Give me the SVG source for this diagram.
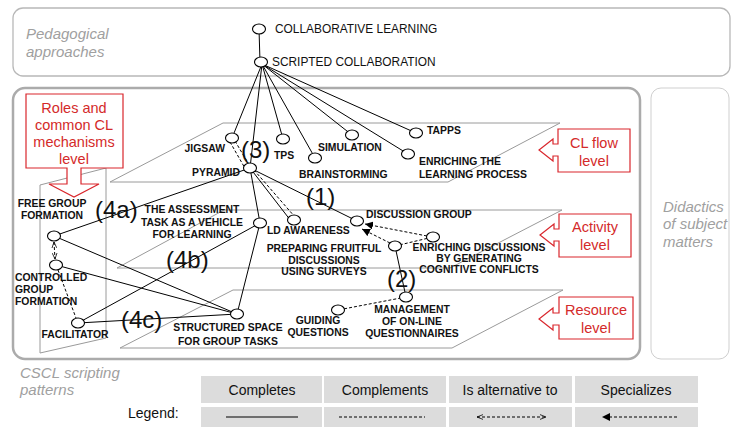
<svg xmlns="http://www.w3.org/2000/svg" width="741" height="435" viewBox="0 0 741 435">
<style>
.frame{fill:none;stroke:#b8b8b8;stroke-width:1.3}
.plane{fill:none;stroke:#9a9a9a;stroke-width:1}
.gray{font-family:"Liberation Sans",Arial,sans-serif;font-style:italic;font-size:15px;fill:#a0a0a0}
.call{fill:#fff;stroke:#d9262c;stroke-width:1.2}
.ct{font-family:"Liberation Sans",Arial,sans-serif;font-size:14.5px;fill:#d42a2a;text-anchor:middle}
.n{fill:#fff;stroke:#000;stroke-width:1.1}
.lb{font-family:"Liberation Sans",Arial,sans-serif;font-size:10.4px;font-weight:bold;fill:#111}
.top{font-family:"Liberation Sans",Arial,sans-serif;font-size:11.9px;fill:#111}
.big{font-family:"Liberation Sans",Arial,sans-serif;font-size:24px;fill:#111}
.s{fill:none;stroke:#000;stroke-width:1}
.d{fill:none;stroke:#000;stroke-width:1;stroke-dasharray:3,2}
.cell{fill:#dcdcdc}
.lt{font-family:"Liberation Sans",Arial,sans-serif;font-size:14px;fill:#111;text-anchor:middle}
</style>
<defs>
<marker id="fa" viewBox="0 0 10 10" refX="10" refY="5" markerWidth="8" markerHeight="8" orient="auto"><path d="M0,0 L10,5 L0,10 Z" fill="#000"/></marker>
<marker id="oa" viewBox="0 0 10 10" refX="10" refY="5" markerWidth="6" markerHeight="6" orient="auto-start-reverse"><path d="M0,1 L10,5 L0,9" fill="none" stroke="#000" stroke-width="1.3"/></marker>
</defs>

<!-- frames -->
<g id="frames">
<rect class="frame" x="13" y="8" width="717" height="68" rx="10"/>
<text class="gray" x="26" y="39">Pedagogical</text>
<text class="gray" x="26" y="57">approaches</text>
<rect x="13" y="88" width="627" height="271" rx="12" fill="none" stroke="#ababab" stroke-width="2.5"/>
<text class="gray" x="20" y="378">CSCL scripting</text>
<text class="gray" x="20" y="395">patterns</text>
<rect x="651" y="88" width="78" height="271" rx="10" fill="none" stroke="#cfcfcf" stroke-width="1"/>
<text class="gray" x="663" y="212">Didactics</text>
<text class="gray" x="663" y="229">of subject</text>
<text class="gray" x="663" y="247">matters</text>
</g>

<!-- planes -->
<g id="planes">
<path class="plane" d="M223,123 H560 L448,182 H110 Z"/>
<path class="plane" d="M224,210 H562 L450,268 H117 Z"/>
<path class="plane" d="M233,290 H563 L452,348 H120 Z"/>
<path class="plane" d="M40,185 L106,168 V338 L40,353 Z"/>
</g>

<!-- callouts -->
<g id="callout-roles">
<path class="call" d="M26,94 H123 V168 H81 V184 H99 L74,197 L49,184 H67 V168 H26 Z"/>
<text class="ct" x="74" y="113">Roles and</text>
<text class="ct" x="74" y="130">common CL</text>
<text class="ct" x="74" y="147">mechanisms</text>
<text class="ct" x="74" y="164">level</text>
</g>
<g id="callout-clflow">
<path class="call" d="M558,129 H630 V172 H558 V156 H553 V161 L539,150 L553,139 V144 H558 Z"/>
<text class="ct" x="594" y="148">CL flow</text>
<text class="ct" x="594" y="166">level</text>
</g>
<g id="callout-activity">
<path class="call" d="M559,214 H631 V257 H559 V241 H554 V246 L540,235 L554,224 V229 H559 Z"/>
<text class="ct" x="595" y="232">Activity</text>
<text class="ct" x="595" y="250">level</text>
</g>
<g id="callout-resource">
<path class="call" d="M559,297 H633 V339 H559 V325 H553 V330 L539,319 L553,308 V313 H559 Z"/>
<text class="ct" x="596" y="315">Resource</text>
<text class="ct" x="596" y="333">level</text>
</g>

<!-- connectors -->
<g id="connectors">
<line class="s" x1="259" y1="29" x2="260" y2="62"/>
<line class="s" x1="262" y1="64" x2="232" y2="138"/>
<line class="s" x1="262" y1="64" x2="250" y2="168"/>
<line class="s" x1="262" y1="64" x2="283" y2="139"/>
<line class="s" x1="262" y1="64" x2="315" y2="158"/>
<line class="s" x1="262" y1="64" x2="352" y2="135"/>
<line class="s" x1="262" y1="64" x2="408" y2="154"/>
<line class="s" x1="262" y1="64" x2="416" y2="133"/>
<line class="d" x1="230" y1="142" x2="246" y2="170"/>
<line class="d" x1="235" y1="141" x2="251" y2="168"/>
<line class="s" x1="250" y1="168" x2="357" y2="221"/>
<line class="s" x1="250" y1="168" x2="260" y2="223"/>
<line class="s" x1="250" y1="168" x2="291" y2="221"/>
<line class="d" x1="254" y1="170" x2="295" y2="217"/>
<line class="s" x1="250" y1="168" x2="54" y2="236"/>
<line class="s" x1="260" y1="223" x2="237" y2="314"/>
<line class="s" x1="260" y1="223" x2="78" y2="323"/>
<line class="s" x1="54" y1="236" x2="237" y2="314"/>
<line class="s" x1="56" y1="265" x2="237" y2="314"/>
<line class="s" x1="78" y1="323" x2="237" y2="314"/>
<line class="d" x1="54" y1="242" x2="55" y2="259" marker-start="url(#oa)" marker-end="url(#oa)"/>
<line class="d" x1="58" y1="270" x2="76" y2="318"/>
<line class="s" x1="395" y1="246" x2="406" y2="297"/>
<line class="d" x1="395" y1="246" x2="433" y2="237"/>
<line class="d" x1="427" y1="236" x2="365" y2="224" marker-end="url(#fa)"/>
<line class="d" x1="390" y1="243" x2="362" y2="229" marker-end="url(#fa)"/>
<line class="d" x1="406" y1="297" x2="338" y2="310"/>
</g>

<!-- nodes -->
<g id="n-collab"><ellipse class="n" cx="259" cy="29" rx="6.5" ry="5"/><text class="top" x="275" y="33">COLLABORATIVE LEARNING</text></g>
<g id="n-scripted"><ellipse class="n" cx="261" cy="62" rx="6.5" ry="5"/><text class="top" x="272" y="66">SCRIPTED COLLABORATION</text></g>
<g id="n-jigsaw"><ellipse class="n" cx="232" cy="138" rx="6.5" ry="5"/><text class="lb" x="225" y="152" text-anchor="end">JIGSAW</text></g>
<g id="n-pyramid"><ellipse class="n" cx="250" cy="168" rx="6.5" ry="5"/><text class="lb" x="240" y="176" text-anchor="end">PYRAMID</text></g>
<g id="n-tps"><ellipse class="n" cx="283" cy="139" rx="6.5" ry="5"/><text class="lb" x="274" y="159">TPS</text></g>
<g id="n-brainstorming"><ellipse class="n" cx="315" cy="158" rx="6.5" ry="5"/><text class="lb" x="299" y="178">BRAINSTORMING</text></g>
<g id="n-simulation"><ellipse class="n" cx="352" cy="135" rx="6.5" ry="5"/><text class="lb" x="318" y="151">SIMULATION</text></g>
<g id="n-tapps"><ellipse class="n" cx="416" cy="133" rx="6.5" ry="5"/><text class="lb" x="427" y="134">TAPPS</text></g>
<g id="n-enriching-lp"><ellipse class="n" cx="408" cy="154" rx="6.5" ry="5"/><text class="lb" x="419" y="165">ENRICHING THE</text><text class="lb" x="419" y="178">LEARNING PROCESS</text></g>
<g id="n-discussion"><ellipse class="n" cx="357" cy="221" rx="6.5" ry="5"/><text class="lb" x="366" y="218">DISCUSSION GROUP</text></g>
<g id="n-ld"><ellipse class="n" cx="294" cy="220" rx="6.5" ry="5"/><text class="lb" x="267" y="234">LD AWARENESS</text></g>
<g id="n-assessment"><ellipse class="n" cx="260" cy="223" rx="6.5" ry="5"/><text class="lb" x="192" y="213" text-anchor="middle">THE ASSESSMENT</text><text class="lb" x="192" y="226" text-anchor="middle">TASK AS A VEHICLE</text><text class="lb" x="192" y="238" text-anchor="middle">FOR LEARNING</text></g>
<g id="n-preparing"><ellipse class="n" cx="395" cy="246" rx="6.5" ry="5"/><text class="lb" x="324" y="252" text-anchor="middle">PREPARING FRUITFUL</text><text class="lb" x="324" y="264" text-anchor="middle">DISCUSSIONS</text><text class="lb" x="324" y="275" text-anchor="middle">USING SURVEYS</text></g>
<g id="n-enriching-d"><ellipse class="n" cx="433" cy="237" rx="6.5" ry="5"/><text class="lb" x="479" y="251" text-anchor="middle">ENRICHING DISCUSSIONS</text><text class="lb" x="479" y="262" text-anchor="middle">BY GENERATING</text><text class="lb" x="479" y="273" text-anchor="middle">COGNITIVE CONFLICTS</text></g>
<g id="n-management"><ellipse class="n" cx="406" cy="297" rx="6.5" ry="5"/><text class="lb" x="412" y="313" text-anchor="middle">MANAGEMENT</text><text class="lb" x="412" y="325" text-anchor="middle">OF ON-LINE</text><text class="lb" x="412" y="337" text-anchor="middle">QUESTIONNAIRES</text></g>
<g id="n-guiding"><ellipse class="n" cx="338" cy="310" rx="6.5" ry="5"/><text class="lb" x="318" y="324" text-anchor="middle">GUIDING</text><text class="lb" x="318" y="336" text-anchor="middle">QUESTIONS</text></g>
<g id="n-structured"><ellipse class="n" cx="237" cy="314" rx="6.5" ry="5"/><text class="lb" x="228" y="331" text-anchor="middle">STRUCTURED SPACE</text><text class="lb" x="228" y="345" text-anchor="middle">FOR GROUP TASKS</text></g>
<g id="n-facilitator"><ellipse class="n" cx="78" cy="323" rx="6.5" ry="5"/><text class="lb" x="75" y="338" text-anchor="middle">FACILITATOR</text></g>
<g id="n-free"><ellipse class="n" cx="54" cy="236" rx="6.5" ry="5"/><text class="lb" x="52" y="207" text-anchor="middle">FREE GROUP</text><text class="lb" x="52" y="219" text-anchor="middle">FORMATION</text></g>
<g id="n-controlled"><ellipse class="n" cx="56" cy="265" rx="6.5" ry="5"/><text class="lb" x="15" y="281">CONTROLLED</text><text class="lb" x="15" y="293">GROUP</text><text class="lb" x="15" y="305">FORMATION</text></g>

<!-- big labels -->
<g id="numbers">
<text class="big" x="241" y="158">(3)</text>
<text class="big" x="306" y="205">(1)</text>
<text class="big" x="387" y="287">(2)</text>
<text class="big" x="95" y="218">(4a)</text>
<text class="big" x="166" y="268">(4b)</text>
<text class="big" x="121" y="328">(4c)</text>
</g>

<!-- legend -->
<g id="legend">
<text x="128" y="418" font-family="'Liberation Sans',Arial,sans-serif" font-size="14" fill="#111">Legend:</text>
<rect class="cell" x="201" y="376" width="121" height="27"/>
<rect class="cell" x="324" y="376" width="122" height="27"/>
<rect class="cell" x="449" y="376" width="123" height="27"/>
<rect class="cell" x="575" y="376" width="123" height="27"/>
<rect class="cell" x="201" y="407" width="121" height="20"/>
<rect class="cell" x="324" y="407" width="122" height="20"/>
<rect class="cell" x="449" y="407" width="123" height="20"/>
<rect class="cell" x="575" y="407" width="123" height="20"/>
<text class="lt" x="262" y="395">Completes</text>
<text class="lt" x="385" y="395">Complements</text>
<text class="lt" x="510" y="395">Is alternative to</text>
<text class="lt" x="636" y="395">Specializes</text>
<line class="s" x1="226" y1="417" x2="298" y2="417"/>
<line class="d" x1="339" y1="417" x2="425" y2="417" stroke-dasharray="2,1.5"/>
<line class="d" x1="477" y1="417" x2="546" y2="417" stroke-dasharray="2,1.5" marker-start="url(#oa)" marker-end="url(#oa)"/>
<line class="d" x1="677" y1="417" x2="602" y2="417" stroke-dasharray="2,1.5" marker-end="url(#fa)"/>
</g>
</svg>
